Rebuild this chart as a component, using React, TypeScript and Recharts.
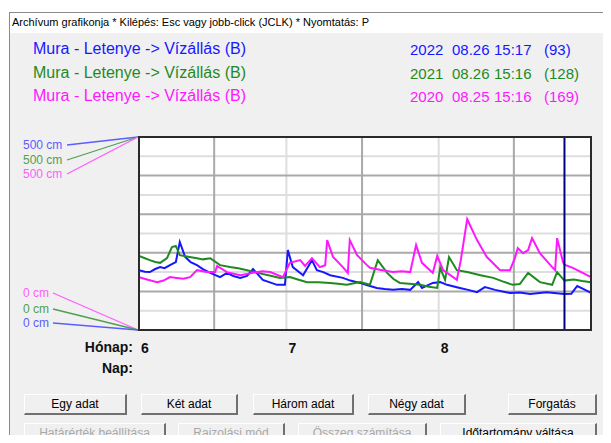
import React from "react";
import { LineChart, Line, XAxis, YAxis, CartesianGrid, ReferenceLine } from "recharts";

// day index from June 1 (0) to Aug 31 (92), water level in cm
const blue2022: [number, number][] = [
  [0, 155], [1.2, 151], [2.2, 150], [3.3, 158], [4.3, 163], [5.2, 160], [6.3, 168], [7.5, 176], [8.3, 228],
  [9.4, 189], [10.5, 176], [11.8, 168], [13.0, 158], [14.5, 148], [16.5, 137], [17.9, 148], [19.2, 140],
  [20.6, 135], [22.0, 140], [23.2, 158], [25.2, 130], [26.5, 124], [28.1, 117], [29.7, 117], [30.3, 207],
  [31.3, 163], [33.4, 142], [35.2, 181], [36.2, 155], [37.5, 150], [38.9, 142], [41.5, 135], [43.0, 128],
  [45.0, 122], [46.5, 116], [48.4, 109], [50.0, 106], [51.7, 104], [53.5, 106], [55.2, 104], [56.8, 124],
  [57.6, 109], [59.8, 122], [61.3, 124], [62.7, 117], [65.3, 109], [67.0, 104], [68.8, 98], [70.4, 111],
  [72.5, 104], [74.0, 100], [75.5, 96], [77.5, 97], [79.6, 93], [81.5, 96], [83.0, 98], [85.0, 95],
  [86.6, 93], [88.0, 94], [89.2, 114], [90.5, 106], [92, 96],
];
const green2021: [number, number][] = [
  [0, 192], [1.2, 186], [2.2, 181], [3.3, 176], [4.3, 174], [5.7, 186], [6.7, 215], [7.5, 218], [8.3, 194],
  [10.0, 190], [11.8, 186], [13.0, 183], [14.5, 186], [16.5, 168], [18.5, 163], [20.2, 160], [22.0, 155],
  [23.6, 150], [25.2, 145], [27.0, 140], [28.7, 135], [30.7, 137], [32.5, 130], [34.2, 124], [36.5, 124],
  [38.9, 122], [40.5, 120], [42.3, 117], [45.0, 124], [47.0, 117], [48.6, 181], [50.5, 148], [51.8, 132],
  [53.1, 122], [55.0, 120], [57.2, 117], [59.0, 112], [60.7, 109], [61.3, 161], [62.3, 130], [63.1, 189],
  [64.7, 155], [66.8, 150], [69.5, 142], [72.1, 135], [74.0, 126], [76.1, 117], [77.5, 119], [79.2, 148],
  [81.6, 124], [84.1, 117], [85.1, 150], [86.6, 128], [88.5, 131], [90.2, 127], [92, 124],
];
const magenta2020: [number, number][] = [
  [0, 137], [1.8, 130], [3.7, 124], [5.0, 128], [6.3, 137], [7.7, 135], [9.0, 133], [10.4, 137], [11.8, 155],
  [13.8, 150], [15.5, 150], [15.9, 166], [17.9, 150], [20.6, 142], [23.2, 148], [25.0, 152], [26.7, 150],
  [29.3, 137], [30.7, 174], [32.8, 181], [33.8, 166], [35.2, 186], [36.8, 163], [37.9, 168], [38.3, 233],
  [39.5, 189], [41.5, 163], [42.5, 148], [42.9, 233], [44.4, 194], [46.4, 168], [47.0, 161], [49.5, 155],
  [51.7, 150], [53.5, 152], [55.2, 150], [56.4, 220], [57.6, 174], [59.8, 148], [60.7, 192], [61.9, 155],
  [64.7, 130], [65.5, 181], [66.8, 287], [68.8, 233], [70.8, 189], [73.5, 155], [75.5, 155], [76.5, 186],
  [77.1, 212], [78.2, 199], [79.2, 207], [80.0, 238], [81.6, 199], [84.1, 163], [84.7, 155], [85.1, 238],
  [86.3, 176], [86.6, 169], [88.3, 161], [90.0, 150], [92, 137],
];

const seriesNames = ["Mura - Letenye -> Vízállás (B)", "Mura - Letenye -> Vízállás (B)", "Mura - Letenye -> Vízállás (B)"];
const seriesYears = ["2022", "2021", "2020"];
const seriesDates = ["08.26", "08.26", "08.25"];
const seriesTimes = ["15:17", "15:16", "15:16"];
const seriesCounts = ["(93)", "(128)", "(169)"];
const seriesColors = ["#1717ff", "#1f8a1f", "#ff17ff"];
const axisColors = ["#5c5cff", "#4f9f4f", "#ff5cff"];
const seriesData = [blue2022, green2021, magenta2020];

const monthTicks = [0, 30, 61];
const monthLabels = ["6", "7", "8"];
const midMonthDays = [15.3, 45.4, 76.3];
const cursorDay = 86.6;
const majorLevels = [100, 200, 300, 400];
const minorLevels = [50, 150, 250, 350, 450];

const buttonsTop = ["Egy adat", "Két adat", "Három adat", "Négy adat", "Forgatás"];
const buttonsBottom = ["Határérték beállítása", "Rajzolási mód", "Összeg számítása", "Időtartomány váltása"];

const FONT = "'Liberation Sans', Arial, sans-serif";

const YTick = (props: any) => {
  const { x, y, payload } = props;
  const cx = x - 1;
  const top = payload.value === 500;
  // order of labels from top to bottom
  const order = top ? [0, 1, 2] : [2, 1, 0];
  const offs = top ? [8, 23, 37] : [-37, -21, -7];
  return (
    <g>
      {order.map((si, i) => {
        const ty = y + offs[i];
        const label = top ? "500 cm" : "0 cm";
        const tx2 = top ? 67 : 53;
        return (
          <g key={i}>
            <line x1={tx2} y1={ty} x2={cx} y2={y} stroke={axisColors[si]} strokeWidth={1.3} />
            <text x={23} y={ty} dy="0.35em" fill={axisColors[si]} fontSize={12} fontFamily={FONT}>
              {label}
            </text>
          </g>
        );
      })}
    </g>
  );
};

const XTick = (props: any) => {
  const { x, y, payload } = props;
  const idx = monthTicks.indexOf(payload.value);
  return (
    <text x={x + 2} y={y + 18} dy="0.35em" fontSize={14} fontWeight="bold" fontFamily={FONT} fill="#111">
      {monthLabels[idx]}
    </text>
  );
};

const btn = (label: string, left: number, width: number, top: number, disabled: boolean) => (
  <div
    key={label}
    style={{
      position: "absolute",
      left,
      top,
      width,
      height: 21,
      boxSizing: "border-box",
      background: "#f0f0f0",
      borderTop: "1px solid #ffffff",
      borderLeft: "1px solid #ffffff",
      borderRight: "2px solid #707070",
      borderBottom: "2px solid #707070",
      fontSize: 12,
      lineHeight: "18px",
      textAlign: "center",
      color: disabled ? "#a8a8a8" : "#000",
    }}
  >
    {label}
  </div>
);

export default function App() {
  const topLefts = [24, 141, 253, 368, 508];
  const topWidths = [103, 97, 101, 98, 89];
  const botLefts = [24, 178, 298, 440];
  const botWidths = [142, 107, 129, 157];
  return (
    <div style={{ position: "relative", width: 611, height: 443, margin: -8, background: "#fff", fontFamily: FONT, overflow: "hidden" }}>
      <div style={{ position: "absolute", left: 9, top: 12, width: 598, height: 431, background: "#f0f0f0", borderLeft: "1px solid #8a8a8a", borderTop: "1px solid #8a8a8a" }} />
      <div style={{ position: "absolute", left: 10, top: 13, width: 597, height: 20, background: "#fff" }} />
      <div style={{ position: "absolute", left: 12, top: 16, fontSize: 11, color: "#000", whiteSpace: "nowrap" }}>
        Archívum grafikonja * Kilépés: Esc vagy jobb-click (JCLK) * Nyomtatás: P
      </div>

      {seriesNames.map((n, i) => (
        <React.Fragment key={i}>
          <div style={{ position: "absolute", left: 33, top: 40 + i * 23.5, fontSize: 16, color: seriesColors[i], whiteSpace: "nowrap" }}>{n}</div>
          <div style={{ position: "absolute", left: 410, top: 41 + i * 23.5, fontSize: 15, color: seriesColors[i], whiteSpace: "nowrap" }}>{seriesYears[i]}</div>
          <div style={{ position: "absolute", left: 452, top: 41 + i * 23.5, fontSize: 15, color: seriesColors[i], whiteSpace: "nowrap" }}>{seriesDates[i]}</div>
          <div style={{ position: "absolute", left: 494, top: 41 + i * 23.5, fontSize: 15, color: seriesColors[i], whiteSpace: "nowrap" }}>{seriesTimes[i]}</div>
          <div style={{ position: "absolute", left: 544, top: 41 + i * 23.5, fontSize: 15, color: seriesColors[i], whiteSpace: "nowrap" }}>{seriesCounts[i]}</div>
        </React.Fragment>
      ))}

      <div style={{ position: "absolute", left: 0, top: 0 }}>
        <LineChart width={611} height={443} margin={{ top: 137, right: 20, bottom: 83, left: 0 }}>
          <CartesianGrid fill="#ffffff" stroke="#dedede" strokeWidth={2} horizontalValues={minorLevels} verticalValues={monthTicks.slice(1)} />
          <CartesianGrid stroke="#a9a9a9" strokeWidth={2} horizontalValues={majorLevels} verticalValues={midMonthDays} />
          <XAxis type="number" dataKey="day" domain={[0, 92]} ticks={monthTicks} tick={<XTick />} axisLine={false} tickLine={false} tickSize={0} tickMargin={0} height={30} allowDataOverflow />
          <YAxis type="number" domain={[0, 500]} ticks={[0, 500]} tick={<YTick />} axisLine={false} tickLine={false} tickSize={0} tickMargin={0} width={139} />
          {seriesData.map((d, i) => (
            <Line
              key={i}
              data={d.map(([day, cm]) => ({ day, cm }))}
              dataKey="cm"
              type="linear"
              stroke={seriesColors[i]}
              strokeWidth={2}
              dot={false}
              isAnimationActive={false}
            />
          ))}
          <ReferenceLine x={cursorDay} stroke="#000080" strokeWidth={2} />
        </LineChart>
      </div>

      <div style={{ position: "absolute", left: 138, top: 136, width: 454, height: 195, boxSizing: "border-box", border: "2px solid #2a2a2a", pointerEvents: "none" }} />

      <div style={{ position: "absolute", left: 40, width: 93, top: 339, fontSize: 14, fontWeight: "bold", textAlign: "right", color: "#111" }}>Hónap:</div>
      <div style={{ position: "absolute", left: 40, width: 93, top: 360, fontSize: 14, fontWeight: "bold", textAlign: "right", color: "#111" }}>Nap:</div>

      {buttonsTop.map((b, i) => btn(b, topLefts[i], topWidths[i], 394, false))}
      {buttonsBottom.map((b, i) => btn(b, botLefts[i], botWidths[i], 423, i < 3))}
    </div>
  );
}
